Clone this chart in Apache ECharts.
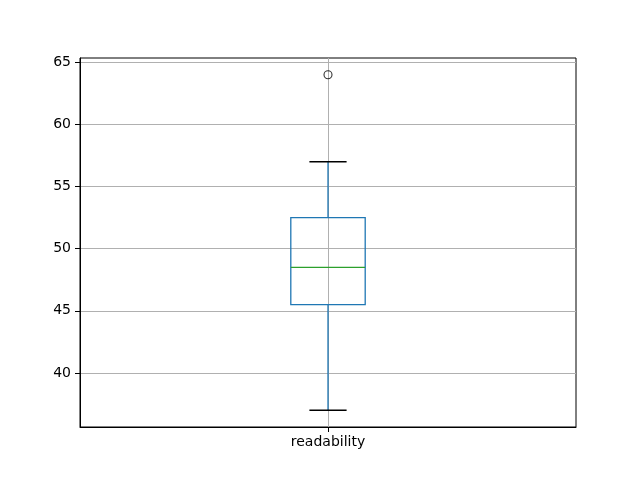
<!DOCTYPE html>
<html>
<head>
<meta charset="utf-8">
<script src="https://cdn.jsdelivr.net/npm/echarts@6/dist/echarts.min.js"></script>
<style>html,body{margin:0;padding:0;background:#fff}#c{width:640px;height:480px}</style>
</head>
<body>
<div id="c"></div>
<script>
var categories = ['readability'];
var q1 = [45.5];
var median = [48.5];
var q3 = [52.5];
var whiskerLow = [37];
var whiskerHigh = [57];
var outliers = [[64]];
var yTicks = [40, 45, 50, 55, 60, 65];

var boxData = categories.map(function (c, i) {
  return [i + 1, whiskerLow[i], q1[i], median[i], q3[i], whiskerHigh[i]];
});
var outlierData = [];
outliers.forEach(function (arr, i) {
  arr.forEach(function (v) { outlierData.push([i + 1, v]); });
});

var chart = echarts.init(document.getElementById('c'), null, {renderer: 'canvas'});
var font = 'DejaVu Sans';
chart.setOption({
  animation: false,
  backgroundColor: '#fff',
  grid: {left: 80, right: 64, top: 58, bottom: 53, show: true, borderColor: '#000', borderWidth: 1, backgroundColor: 'transparent', containLabel: false},
  xAxis: {
    type: 'value', min: 0.5, max: 1.5,
    axisLine: {show: true, lineStyle: {color: '#000', width: 1}},
    axisTick: {show: true, length: 5, lineStyle: {color: '#000'}, customValues: categories.map(function (c, i) { return i + 1; })},
    axisLabel: {show: true, color: '#000', fontFamily: font, fontSize: 14, margin: 8,
      customValues: categories.map(function (c, i) { return i + 1; }),
      formatter: function (v) { return categories[Math.round(v) - 1] || ''; }},
    splitLine: {show: true, lineStyle: {color: '#b0b0b0', width: 1}}
  },
  yAxis: {
    type: 'value', min: 35.65, max: 65.35,
    axisLine: {show: true, lineStyle: {color: '#000', width: 1}},
    axisTick: {show: true, length: 5, lineStyle: {color: '#000'}, customValues: yTicks},
    axisLabel: {show: true, color: '#000', fontFamily: font, fontSize: 14, margin: 9, customValues: yTicks},
    splitLine: {show: true, lineStyle: {color: '#b0b0b0', width: 1}}
  },
  series: [
    {
      type: 'custom',
      data: boxData,
      z: 3,
      renderItem: function (params, api) {
        var x = api.value(0);
        var lo = api.coord([x, api.value(1)]);
        var b1 = api.coord([x, api.value(2)]);
        var md = api.coord([x, api.value(3)]);
        var b3 = api.coord([x, api.value(4)]);
        var hi = api.coord([x, api.value(5)]);
        var left = api.coord([x - 0.075, 0])[0];
        var right = api.coord([x + 0.075, 0])[0];
        var cl = api.coord([x - 0.0375, 0])[0];
        var cr = api.coord([x + 0.0375, 0])[0];
        var blue = '#1f77b4';
        var lw = 1.3;
        return {
          type: 'group',
          children: [
            {type: 'line', shape: {x1: lo[0], y1: lo[1], x2: b1[0], y2: b1[1]}, style: {stroke: blue, lineWidth: lw}},
            {type: 'line', shape: {x1: b3[0], y1: b3[1], x2: hi[0], y2: hi[1]}, style: {stroke: blue, lineWidth: lw}},
            {type: 'rect', shape: {x: left, y: b3[1], width: right - left, height: b1[1] - b3[1]}, style: {stroke: blue, fill: null, lineWidth: lw}},
            {type: 'line', shape: {x1: left, y1: md[1], x2: right, y2: md[1]}, style: {stroke: '#2ca02c', lineWidth: lw}},
            {type: 'line', shape: {x1: cl, y1: lo[1], x2: cr, y2: lo[1]}, style: {stroke: '#000', lineWidth: lw}},
            {type: 'line', shape: {x1: cl, y1: hi[1], x2: cr, y2: hi[1]}, style: {stroke: '#000', lineWidth: lw}}
          ]
        };
      }
    },
    {
      type: 'scatter',
      data: outlierData,
      z: 4,
      symbol: 'circle',
      symbolSize: 8,
      itemStyle: {color: 'rgba(0,0,0,0)', borderColor: '#000', borderWidth: 1.1}
    }
  ]
});
</script>
</body>
</html>
